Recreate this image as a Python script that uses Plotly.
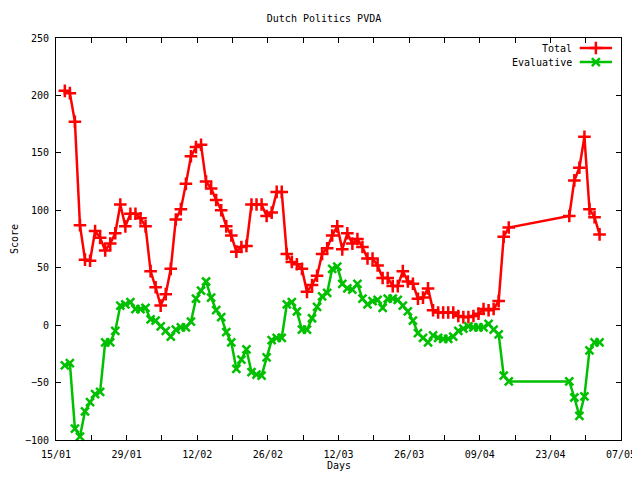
import plotly.graph_objects as go

# sample dates (one reading per day, taken in the evening)
dates = [
    "2010-01-16", "2010-01-17", "2010-01-18", "2010-01-19", "2010-01-20", "2010-01-21",
    "2010-01-22", "2010-01-23", "2010-01-24", "2010-01-25", "2010-01-26", "2010-01-27",
    "2010-01-28", "2010-01-29", "2010-01-30", "2010-01-31",
    "2010-02-01", "2010-02-02", "2010-02-03", "2010-02-04", "2010-02-05", "2010-02-06",
    "2010-02-07", "2010-02-08", "2010-02-09", "2010-02-10", "2010-02-11", "2010-02-12",
    "2010-02-13", "2010-02-14", "2010-02-15", "2010-02-16", "2010-02-17", "2010-02-18",
    "2010-02-19", "2010-02-20", "2010-02-21", "2010-02-22", "2010-02-23", "2010-02-24",
    "2010-02-25", "2010-02-26", "2010-02-27", "2010-02-28",
    "2010-03-01", "2010-03-02", "2010-03-03", "2010-03-04", "2010-03-05", "2010-03-06",
    "2010-03-07", "2010-03-08", "2010-03-09", "2010-03-10", "2010-03-11", "2010-03-12",
    "2010-03-13", "2010-03-14", "2010-03-15", "2010-03-16", "2010-03-17", "2010-03-18",
    "2010-03-19", "2010-03-20", "2010-03-21", "2010-03-22", "2010-03-23", "2010-03-24",
    "2010-03-25", "2010-03-26", "2010-03-27", "2010-03-28", "2010-03-29", "2010-03-30",
    "2010-03-31",
    "2010-04-01", "2010-04-02", "2010-04-03", "2010-04-04", "2010-04-05", "2010-04-06",
    "2010-04-07", "2010-04-08", "2010-04-09", "2010-04-10", "2010-04-11", "2010-04-12",
    "2010-04-13", "2010-04-14",
    "2010-04-26", "2010-04-27", "2010-04-28", "2010-04-29", "2010-04-30", "2010-05-01",
    "2010-05-02",
]

total = [
    204, 202, 177, 87, 57, 56, 82, 76, 65, 71,
    80, 105, 86, 97, 97, 93, 86, 47, 33, 17,
    27, 49, 92, 101, 123, 147, 155, 157, 125, 119,
    109, 100, 86, 78, 64, 68, 69, 105, 105, 105,
    95, 98, 116, 116, 62, 55, 53, 49, 29, 35,
    43, 62, 67, 78, 86, 66, 80, 71, 75, 68,
    58, 58, 52, 41, 41, 34, 34, 47, 38, 36,
    23, 24, 32, 13, 11, 11, 11, 11, 8, 7,
    7, 8, 10, 14, 13, 14, 21, 77, 85,
    95, 126, 137, 164, 101, 94, 79,
]

evaluative = [
    -35, -33, -90, -97, -75, -67, -60, -58, -15, -15,
    -5, 17, 18, 20, 14, 14, 15, 5, 4, -1,
    -5, -10, -4, -2, -2, 3, 23, 30, 38, 24,
    13, 7, -6, -15, -38, -30, -21, -41, -43, -44,
    -28, -13, -11, -11, 18, 20, 12, -4, -4, 6,
    16, 25, 28, 49, 51, 36, 32, 31, 36, 23,
    18, 21, 22, 15, 23, 23, 22, 17, 12, 4,
    -7, -11, -15, -9, -11, -12, -12, -10, -5, -3,
    -1, -2, -2, -2, 1, -4, -8, -44, -49,
    -49, -63, -79, -62, -22, -15, -15,
]

x = [d + " 18:00" for d in dates]

FONT = "DejaVu Sans Mono"
RED = "#ff0000"
GREEN = "#00c000"

# the page body has an 8px margin, so the figure is a bit smaller than the window
W, H = 632, 464
ML, MR, MT, MB = 48, 19, 30, 32
PW, PH = W - ML - MR, H - MT - MB

fig = go.Figure()

fig.add_trace(go.Scatter(
    x=x, y=total, mode="lines+markers", name="Total",
    line=dict(color=RED, width=2.5),
    marker=dict(symbol="cross-thin", size=9, line=dict(color=RED, width=2.5)),
    cliponaxis=False, showlegend=False,
))
fig.add_trace(go.Scatter(
    x=x, y=evaluative, mode="lines+markers", name="Evaluative",
    line=dict(color=GREEN, width=2.5),
    marker=dict(symbol="x-thin", size=8, line=dict(color=GREEN, width=2.5)),
    cliponaxis=False, showlegend=False,
))

# gnuplot-style key: text on the left, sample on the right
key = [("Total", RED, "cross-thin", 9, 0.975), ("Evaluative", GREEN, "x-thin", 8, 0.940)]
for label, col, sym, sz, ky in key:
    fig.add_trace(go.Scatter(
        x=[0.927, 0.984], y=[ky, ky], xaxis="x2", yaxis="y2", mode="lines",
        line=dict(color=col, width=2.5), showlegend=False, hoverinfo="skip",
    ))
    fig.add_trace(go.Scatter(
        x=[0.9555], y=[ky], xaxis="x2", yaxis="y2", mode="markers",
        marker=dict(symbol=sym, size=sz, line=dict(color=col, width=2.5)),
        showlegend=False, hoverinfo="skip", cliponaxis=False,
    ))
    fig.add_annotation(
        text=label, xref="paper", yref="paper", x=0.917, y=ky,
        xanchor="right", yanchor="middle", showarrow=False,
        font=dict(family=FONT, size=10, color="black"),
    )

# axis titles
fig.add_annotation(
    text="Days", xref="paper", yref="paper", x=0.5, y=-MB / PH, borderpad=0,
    xanchor="center", yanchor="bottom", showarrow=False,
    font=dict(family=FONT, size=10, color="black"),
)
fig.add_annotation(
    text="Score", xref="paper", yref="paper", x=-42 / PW, y=0.5, textangle=-90,
    xanchor="center", yanchor="middle", showarrow=False,
    font=dict(family=FONT, size=10, color="black"),
)

fig.update_layout(
    width=W, height=H,
    paper_bgcolor="white", plot_bgcolor="white",
    margin=dict(l=ML, r=MR, t=MT, b=MB, autoexpand=False),
    font=dict(family=FONT, size=10, color="black"),
    title=dict(text="Dutch Politics PVDA", x=0.5, xanchor="center",
               y=1 - 10 / H, yanchor="middle",
               font=dict(family=FONT, size=10, color="black")),
    xaxis=dict(
        type="date", range=["2010-01-15", "2010-05-07"],
        tick0="2010-01-15", dtick=14 * 86400000, tickformat="%d/%m",
        ticks="inside", ticklen=5, tickcolor="black", ticklabelstandoff=5,
        minor=dict(dtick=7 * 86400000, tick0="2010-01-15", ticks="inside", ticklen=5, tickcolor="black"),
        showline=True, linecolor="black", linewidth=1, mirror="allticks",
        showgrid=False, zeroline=False, automargin=False,
    ),
    yaxis=dict(
        range=[-100, 250], dtick=50, tick0=0,
        ticks="inside", ticklen=5, tickcolor="black", ticklabelstandoff=4,
        showline=True, linecolor="black", linewidth=1, mirror="allticks",
        showgrid=False, zeroline=False, automargin=False,
    ),
    xaxis2=dict(overlaying="x", range=[0, 1], visible=False),
    yaxis2=dict(overlaying="y", range=[0, 1], visible=False),
)

fig.write_html("out.html")
